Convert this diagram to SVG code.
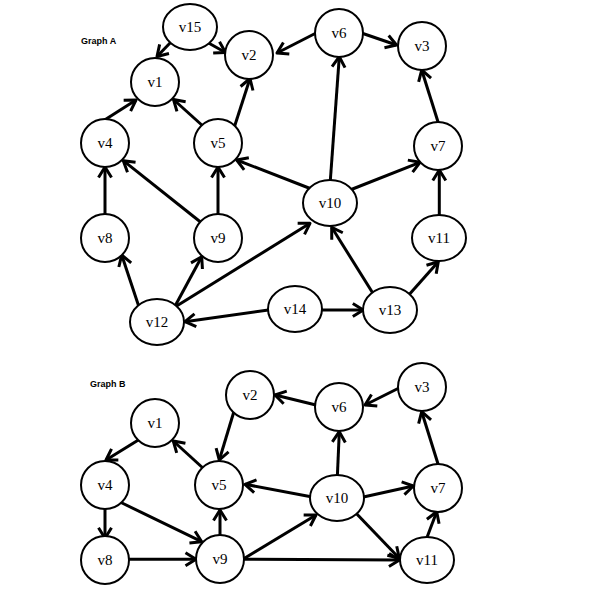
<svg xmlns="http://www.w3.org/2000/svg" width="595" height="590" viewBox="0 0 595 590">
<style>
.n circle, .n ellipse { fill:#fff; stroke:#000; stroke-width:2; }
.n text { font-family:"Liberation Serif","Times New Roman",serif; font-size:15px; fill:#000; text-anchor:middle; dominant-baseline:central; }
.e line { stroke:#000; stroke-width:3; marker-end:url(#arr); }
.lbl { font-family:"Liberation Sans",Arial,sans-serif; font-weight:bold; font-size:9px; fill:#000; }
</style>
<defs>
<marker id="arr" markerUnits="userSpaceOnUse" viewBox="-13 -9 16 18" refX="0" refY="0" markerWidth="16" markerHeight="18" orient="auto">
<path d="M-10.5,-6.5 L0,0 L-10.5,6.5" fill="none" stroke="#000" stroke-width="3" stroke-linejoin="round" stroke-linecap="butt"/>
</marker>
</defs>
<rect width="595" height="590" fill="#fff"/>
<text class="lbl" x="81" y="44">Graph A</text>
<text class="lbl" x="90" y="387">Graph B</text>
<g id="connectors" class="e">
<!-- Graph A -->
<line x1="172" y1="41" x2="157" y2="56.5"/>
<line x1="205" y1="41" x2="225.5" y2="52.5"/>
<line x1="320" y1="31" x2="277" y2="53"/>
<line x1="360" y1="32.5" x2="396.5" y2="45"/>
<line x1="103" y1="121" x2="136" y2="100"/>
<line x1="204" y1="127" x2="173.5" y2="99.5"/>
<line x1="234" y1="128" x2="250" y2="78.5"/>
<line x1="330" y1="185" x2="339.3" y2="56.7"/>
<line x1="439" y1="125" x2="421.7" y2="70"/>
<line x1="314" y1="190" x2="236.7" y2="160"/>
<line x1="350" y1="190" x2="420" y2="162.3"/>
<line x1="203" y1="224" x2="123.3" y2="160.7"/>
<line x1="218" y1="218" x2="218" y2="167"/>
<line x1="105" y1="218" x2="105" y2="167"/>
<line x1="140" y1="310" x2="121.7" y2="255"/>
<line x1="174" y1="308" x2="201.7" y2="256.7"/>
<line x1="175" y1="307" x2="310" y2="223.3"/>
<line x1="272" y1="309.5" x2="185" y2="321.7"/>
<line x1="318" y1="310" x2="363.3" y2="310"/>
<line x1="374" y1="295" x2="331.7" y2="227.3"/>
<line x1="407" y1="297" x2="438.3" y2="261.7"/>
<line x1="439.3" y1="220" x2="439.3" y2="170"/>
<!-- Graph B -->
<line x1="320" y1="406" x2="275" y2="395"/>
<line x1="235" y1="408" x2="219.3" y2="460"/>
<line x1="204" y1="469" x2="173.3" y2="441"/>
<line x1="140" y1="439" x2="106" y2="460"/>
<line x1="105" y1="505" x2="105" y2="538.3"/>
<line x1="120" y1="502" x2="201.7" y2="541.7"/>
<line x1="125" y1="559.3" x2="196" y2="559.3"/>
<line x1="220" y1="540" x2="220" y2="510"/>
<line x1="315" y1="497.5" x2="245" y2="484.3"/>
<line x1="240" y1="561" x2="316" y2="515"/>
<line x1="240" y1="559.3" x2="399.5" y2="560"/>
<line x1="402" y1="386.5" x2="365" y2="405"/>
<line x1="337.2" y1="480" x2="339.3" y2="431.7"/>
<line x1="360" y1="497.8" x2="413.3" y2="486"/>
<line x1="352" y1="509" x2="399.3" y2="558.3"/>
<line x1="426" y1="540" x2="436.7" y2="511.7"/>
<line x1="439" y1="467" x2="421.7" y2="411.7"/>
</g>
<!-- Graph A nodes -->
<g id="A-v15" class="n"><ellipse cx="190" cy="27" rx="27" ry="23"/><text x="190" y="27">v15</text></g>
<g id="A-v2" class="n"><circle cx="249" cy="55" r="24"/><text x="249" y="55">v2</text></g>
<g id="A-v1" class="n"><circle cx="155" cy="82" r="24"/><text x="155" y="82">v1</text></g>
<g id="A-v6" class="n"><circle cx="339" cy="33" r="24"/><text x="339" y="33">v6</text></g>
<g id="A-v3" class="n"><circle cx="422" cy="46" r="24"/><text x="422" y="46">v3</text></g>
<g id="A-v4" class="n"><circle cx="105" cy="143" r="24"/><text x="105" y="143">v4</text></g>
<g id="A-v5" class="n"><circle cx="218" cy="143" r="24"/><text x="218" y="143">v5</text></g>
<g id="A-v7" class="n"><circle cx="438" cy="146" r="24"/><text x="438" y="146">v7</text></g>
<g id="A-v10" class="n"><ellipse cx="330" cy="203" rx="27" ry="23"/><text x="330" y="203">v10</text></g>
<g id="A-v8" class="n"><circle cx="105" cy="238" r="24"/><text x="105" y="238">v8</text></g>
<g id="A-v9" class="n"><circle cx="218" cy="238" r="24"/><text x="218" y="238">v9</text></g>
<g id="A-v11" class="n"><ellipse cx="439" cy="238" rx="27" ry="23"/><text x="439" y="238">v11</text></g>
<g id="A-v12" class="n"><ellipse cx="157" cy="322" rx="27" ry="23"/><text x="157" y="322">v12</text></g>
<g id="A-v14" class="n"><ellipse cx="295" cy="309" rx="27" ry="23"/><text x="295" y="309">v14</text></g>
<g id="A-v13" class="n"><ellipse cx="390" cy="310" rx="27" ry="23"/><text x="390" y="310">v13</text></g>
<!-- Graph B nodes -->
<g id="B-v2" class="n"><circle cx="250" cy="395" r="24"/><text x="250" y="395">v2</text></g>
<g id="B-v1" class="n"><circle cx="155" cy="423" r="24"/><text x="155" y="423">v1</text></g>
<g id="B-v4" class="n"><circle cx="105" cy="485" r="24"/><text x="105" y="485">v4</text></g>
<g id="B-v5" class="n"><circle cx="219" cy="485" r="24"/><text x="219" y="485">v5</text></g>
<g id="B-v8" class="n"><circle cx="105" cy="560" r="24"/><text x="105" y="560">v8</text></g>
<g id="B-v9" class="n"><circle cx="220" cy="559" r="24"/><text x="220" y="559">v9</text></g>
<g id="B-v3" class="n"><circle cx="422" cy="387" r="24"/><text x="422" y="387">v3</text></g>
<g id="B-v6" class="n"><circle cx="339" cy="407" r="24"/><text x="339" y="407">v6</text></g>
<g id="B-v10" class="n"><ellipse cx="337" cy="498" rx="27" ry="23"/><text x="337" y="498">v10</text></g>
<g id="B-v7" class="n"><circle cx="438" cy="488" r="24"/><text x="438" y="488">v7</text></g>
<g id="B-v11" class="n"><ellipse cx="427" cy="560" rx="27" ry="23"/><text x="427" y="560">v11</text></g>
</svg>
